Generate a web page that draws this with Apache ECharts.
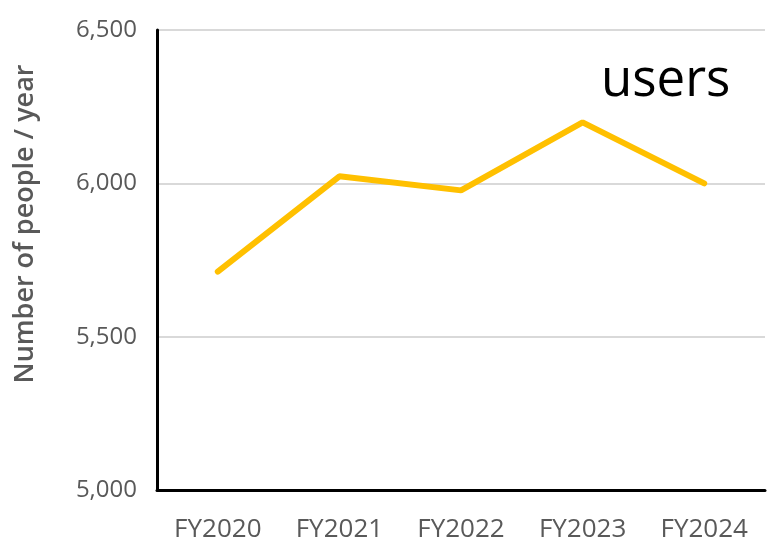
<!DOCTYPE html>
<html><head><meta charset="utf-8">
<script src="https://cdn.jsdelivr.net/npm/echarts@6/dist/echarts.min.js"></script>
<style>html,body{margin:0;padding:0;background:#fff}#c{width:777px;height:557px}</style>
</head><body><div id="c"></div>
<script>
const categories = ["FY2020","FY2021","FY2022","FY2023","FY2024"];
const users = [5712, 6023, 5977, 6199, 6000];
const yTicks = [5000, 5500, 6000, 6500];
const seriesName = "users";
const yAxisTitle = "Number of people / year";

const chart = echarts.init(document.getElementById('c'));
chart.setOption({
  animation: false,
  grid: {left: 157, top: 30, right: 12, bottom: 67},
  graphic: [
    {type: 'text', left: 601, top: 56, style: {text: seriesName, fontSize: 51, fontFamily: 'Open Sans', fill: '#000'}},
    {type: 'text', x: 25, y: 224, rotation: Math.PI / 2,
      style: {text: yAxisTitle, fontSize: 27, fontWeight: 600, fontFamily: 'Open Sans', fill: '#595959',
        align: 'center', verticalAlign: 'middle'}}
  ],
  xAxis: {
    type: 'category', data: categories, boundaryGap: true,
    axisLine: {lineStyle: {color: '#000', width: 3}},
    axisTick: {show: false},
    axisLabel: {fontSize: 26, color: '#595959', fontFamily: 'Open Sans', margin: 27}
  },
  yAxis: {
    type: 'value', min: yTicks[0], max: yTicks[yTicks.length-1], interval: 500,
    axisLine: {show: true, lineStyle: {color: '#000', width: 3}},
    axisTick: {show: false},
    axisLabel: {fontSize: 24, color: '#595959', fontFamily: 'Open Sans', margin: 20,
      formatter: v => v.toLocaleString('en-US')},
    splitLine: {lineStyle: {color: '#d9d9d9', width: 2}}
  },
  series: [{
    name: seriesName, type: 'line', data: users, symbol: 'none',
    lineStyle: {color: '#FFC000', width: 6, cap: 'round'}
  }]
});
</script></body></html>
